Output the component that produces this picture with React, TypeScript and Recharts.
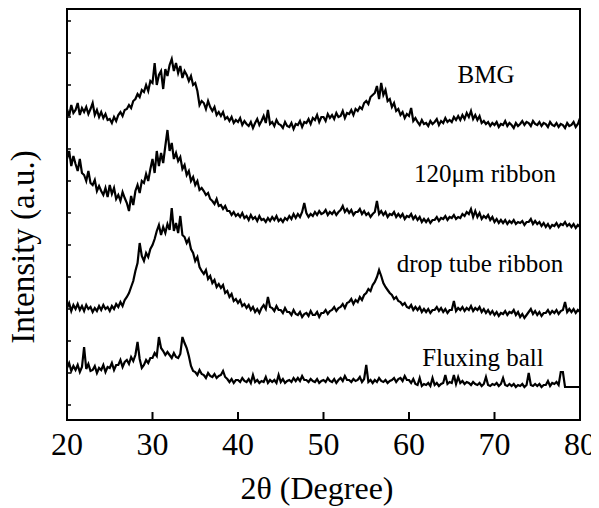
import React from "react";
import { LineChart, Line, XAxis, YAxis, ReferenceArea } from "recharts";

// 2θ grid, 0.25° steps from 20° to 80°
const angles: number[] = Array.from({ length: 241 }, (_, i) => 20 + i * 0.25);

// stacked intensities (a.u.), four samples per degree
const bmg = [
  312, 305, 316, 308, 311, 318, 306, 313, 309, 314, 307, 312, 318, 306, 311, 304,
  309, 303, 307, 301, 302, 298, 304, 300, 306, 309, 305, 311, 312, 316, 313, 320,
  322, 327, 324, 331, 329, 336, 330, 340, 338, 358, 336, 346, 350, 332, 352, 345,
  356, 362, 350, 358, 348, 355, 343, 350, 346, 340, 345, 336, 338, 330, 316, 320,
  318, 312, 320, 314, 310, 314, 306, 309, 305, 309, 302, 304, 300, 304, 298, 301,
  299, 303, 296, 300, 297, 295, 299, 293, 298, 302, 296, 300, 305, 298, 311, 297,
  299, 295, 301, 297, 296, 293, 299, 295, 294, 298, 292, 297, 296, 300, 294, 299,
  298, 302, 297, 303, 301, 306, 299, 304, 304, 300, 307, 303, 306, 302, 308, 304,
  305, 310, 303, 308, 307, 311, 306, 312, 310, 314, 312, 318, 320, 317, 324, 326,
  328, 335, 322, 338, 326, 331, 320, 322, 314, 318, 310, 312, 306, 309, 303, 307,
  305, 313, 300, 303, 299, 296, 301, 297, 298, 295, 300, 297, 299, 302, 296, 300,
  298, 303, 299, 301, 299, 304, 301, 305, 301, 306, 302, 308, 304, 310, 302, 306,
  301, 305, 298, 300, 297, 299, 295, 298, 296, 299, 294, 297, 296, 300, 295, 298,
  296, 293, 298, 295, 297, 300, 296, 299, 298, 295, 300, 297, 296, 299, 295, 298,
  297, 294, 299, 296, 295, 298, 294, 297, 296, 293, 298, 295, 296, 299, 294, 297,
  303,
];

const ribbon120 = [
  262, 270, 255, 265, 257, 250, 262, 248, 246, 240, 250, 238, 236, 241, 230, 235,
  230, 226, 233, 224, 236, 227, 233, 222, 226, 220, 229, 223, 218, 210, 225, 216,
  230, 236, 228, 240, 238, 247, 240, 252, 262, 248, 270, 255, 268, 258, 275, 291,
  270, 278, 262, 268, 260, 264, 252, 256, 246, 250, 240, 244, 236, 240, 231, 233,
  230, 226, 228, 222, 220, 217, 222, 215, 216, 212, 215, 210, 210, 206, 209, 205,
  207, 204, 208, 203, 205, 201, 206, 202, 204, 200, 205, 201, 202, 199, 203, 200,
  204, 201, 205, 200, 202, 199, 203, 201, 205, 202, 207, 203, 207, 204, 209, 218,
  208, 204, 207, 205, 209, 206, 210, 207, 208, 211, 206, 209, 207, 210, 206, 209,
  211, 215, 209, 212, 208, 211, 206, 209, 209, 212, 207, 210, 206, 208, 204, 207,
  209, 220, 207, 210, 206, 209, 204, 207, 206, 209, 204, 207, 204, 207, 202, 205,
  204, 207, 202, 205, 201, 204, 199, 202, 199, 202, 198, 201, 201, 204, 200, 203,
  202, 205, 201, 204, 203, 206, 202, 204, 203, 207, 205, 209, 207, 212, 204, 210,
  204, 208, 202, 205, 203, 206, 201, 204, 199, 202, 198, 201, 198, 201, 197, 200,
  198, 201, 197, 199, 198, 200, 196, 199, 199, 202, 197, 200, 197, 199, 195, 198,
  194, 197, 193, 196, 195, 198, 194, 197, 196, 199, 195, 197, 194, 197, 193, 196,
  194,
];

const dropTube = [
  113, 118, 110, 116, 112, 117, 111, 115, 110, 116, 112, 114, 109, 113, 110, 115,
  111, 116, 112, 114, 110, 115, 112, 117, 114, 119, 115, 121, 124, 128, 134, 140,
  150, 158, 178, 165, 160, 168, 164, 172, 176, 182, 190, 196, 186, 194, 188, 197,
  191, 213, 190, 198, 188, 205, 186, 184, 178, 182, 172, 168, 160, 164, 154, 150,
  147, 151, 142, 145, 138, 141, 134, 137, 133, 136, 128, 130, 124, 127, 120, 122,
  118, 121, 115, 117, 113, 116, 111, 114, 109, 112, 108, 113, 116, 112, 124, 114,
  113, 110, 115, 111, 111, 108, 113, 109, 109, 106, 111, 107, 106, 109, 104, 107,
  108, 105, 110, 106, 106, 109, 104, 108, 108, 111, 107, 110, 111, 114, 110, 113,
  114, 117, 113, 118, 119, 122, 117, 121, 119, 124, 121, 126, 128, 132, 130, 136,
  139, 144, 151, 145, 138, 134, 131, 128, 126, 122, 124, 120, 119, 116, 118, 114,
  113, 116, 111, 114, 111, 114, 109, 112, 109, 112, 108, 111, 111, 114, 110, 113,
  109, 112, 108, 111, 111, 120, 110, 113, 111, 114, 110, 113, 111, 115, 110, 113,
  111, 114, 109, 112, 108, 111, 107, 110, 106, 109, 105, 108, 107, 110, 106, 109,
  108, 111, 106, 109, 104, 107, 103, 106, 109, 112, 107, 110, 106, 109, 105, 108,
  108, 111, 107, 110, 108, 111, 107, 110, 111, 119, 109, 112, 109, 112, 108, 111,
  109,
];

const fluxingBall = [
  53, 58, 50, 55, 51, 56, 49, 54, 74, 52, 57, 50, 51, 55, 48, 53,
  51, 56, 49, 54, 53, 58, 51, 56, 56, 61, 54, 59, 61, 57, 64, 60,
  66, 79, 62, 53, 56, 61, 58, 63, 63, 68, 65, 84, 73, 70, 66, 69,
  66, 63, 68, 64, 63, 67, 84, 78, 73, 65, 55, 50, 49, 46, 51, 47,
  46, 43, 48, 45, 44, 47, 43, 45, 46, 50, 44, 42, 39, 42, 38, 41,
  41, 39, 43, 40, 39, 42, 38, 46, 39, 41, 38, 40, 39, 44, 38, 41,
  39, 41, 38, 46, 39, 42, 38, 40, 41, 39, 43, 40, 43, 40, 45, 41,
  41, 39, 42, 40, 39, 42, 38, 40, 41, 39, 43, 40, 39, 42, 38, 41,
  43, 40, 45, 41, 41, 39, 42, 40, 41, 44, 39, 42, 56, 39, 41, 38,
  41, 39, 43, 40, 39, 41, 38, 40, 41, 43, 39, 42, 43, 40, 45, 41,
  41, 38, 42, 37, 36, 43, 35, 37, 36, 38, 35, 43, 36, 38, 35, 37,
  38, 46, 37, 39, 38, 46, 37, 44, 38, 40, 37, 39, 38, 36, 39, 37,
  36, 38, 35, 37, 44, 36, 35, 37, 36, 38, 35, 37, 43, 36, 35, 37,
  35, 37, 34, 36, 35, 37, 34, 36, 48, 36, 35, 37, 35, 37, 34, 36,
  36, 40, 35, 38, 37, 39, 36, 49, 49, 34, 34, 34, 34, 34, 34, 34,
  34,
];

const xTicks = [20, 30, 40, 50, 60, 70, 80];
const yTicks = [16, 32, 48, 64, 80, 96, 112, 128, 144, 160, 176, 192, 208, 224, 240, 256, 272, 288, 304, 320, 336, 352, 368, 384, 400];

const labels = [
  { text: "BMG", x: 486, y: 83 },
  { text: "120μm ribbon", x: 485, y: 182 },
  { text: "drop tube ribbon", x: 480, y: 272 },
  { text: "Fluxing ball", x: 483, y: 366 },
];

const data = angles.map((a, i) => ({
  angle: a,
  bmg: bmg[i],
  ribbon120: ribbon120[i],
  dropTube: dropTube[i],
  fluxingBall: fluxingBall[i],
}));

const FONT = "Liberation Serif, Times New Roman, serif";

const XTick = (props: any) => {
  const { x, y, payload } = props;
  return (
    <g>
      <line x1={x} x2={x} y1={y} y2={y - 8} stroke="#000" strokeWidth={2} />
      <text x={x} y={y + 35} textAnchor="middle" fontSize={32} fontFamily={FONT} fill="#000">
        {payload.value}
      </text>
    </g>
  );
};

const YTick = (props: any) => {
  const { x, y } = props;
  return <line x1={x} x2={x + 4} y1={y} y2={y} stroke="#000" strokeWidth={1.5} />;
};

const series = ["bmg", "ribbon120", "dropTube", "fluxingBall"];

export default function App() {
  return (
    <div style={{ position: "relative", width: 591, height: 500 }}>
      <LineChart width={591} height={500} data={data} margin={{ top: 1, right: 19, left: 0, bottom: 0 }}>
        <XAxis
          dataKey="angle"
          type="number"
          domain={[20, 80]}
          ticks={xTicks}
          height={88}
          tickSize={0}
          tickMargin={0}
          tickLine={false}
          tick={<XTick />}
          axisLine={{ stroke: "#000", strokeWidth: 2 }}
        />
        <YAxis
          type="number"
          domain={[1, 412]}
          ticks={yTicks}
          width={59}
          tickSize={0}
          tickMargin={0}
          tickLine={false}
          tick={<YTick />}
          axisLine={{ stroke: "#000", strokeWidth: 2 }}
        />
        <ReferenceArea x1={20} x2={80} y1={1} y2={412} fill="none" stroke="#000" strokeWidth={2} ifOverflow="visible" />
        {series.map((k) => (
          <Line
            key={k}
            dataKey={k}
            type="linear"
            stroke="#000"
            strokeWidth={2.2}
            dot={false}
            isAnimationActive={false}
          />
        ))}
      </LineChart>
      {/* text overlay in page coordinates (body margin is 8px) */}
      <svg
        width={599}
        height={508}
        style={{ position: "absolute", left: -8, top: -8, pointerEvents: "none" }}
      >
        {labels.map((l) => (
          <text key={l.text} x={l.x} y={l.y} textAnchor="middle" fontSize={25} fontFamily={FONT} fill="#000">
            {l.text}
          </text>
        ))}
        <text x={317} y={499} textAnchor="middle" fontSize={32} fontFamily={FONT} fill="#000">
          2θ (Degree)
        </text>
        <text
          x={34}
          y={247}
          textAnchor="middle"
          fontSize={33}
          fontFamily={FONT}
          fill="#000"
          transform="rotate(-90 34 247)"
        >
          Intensity (a.u.)
        </text>
      </svg>
    </div>
  );
}
